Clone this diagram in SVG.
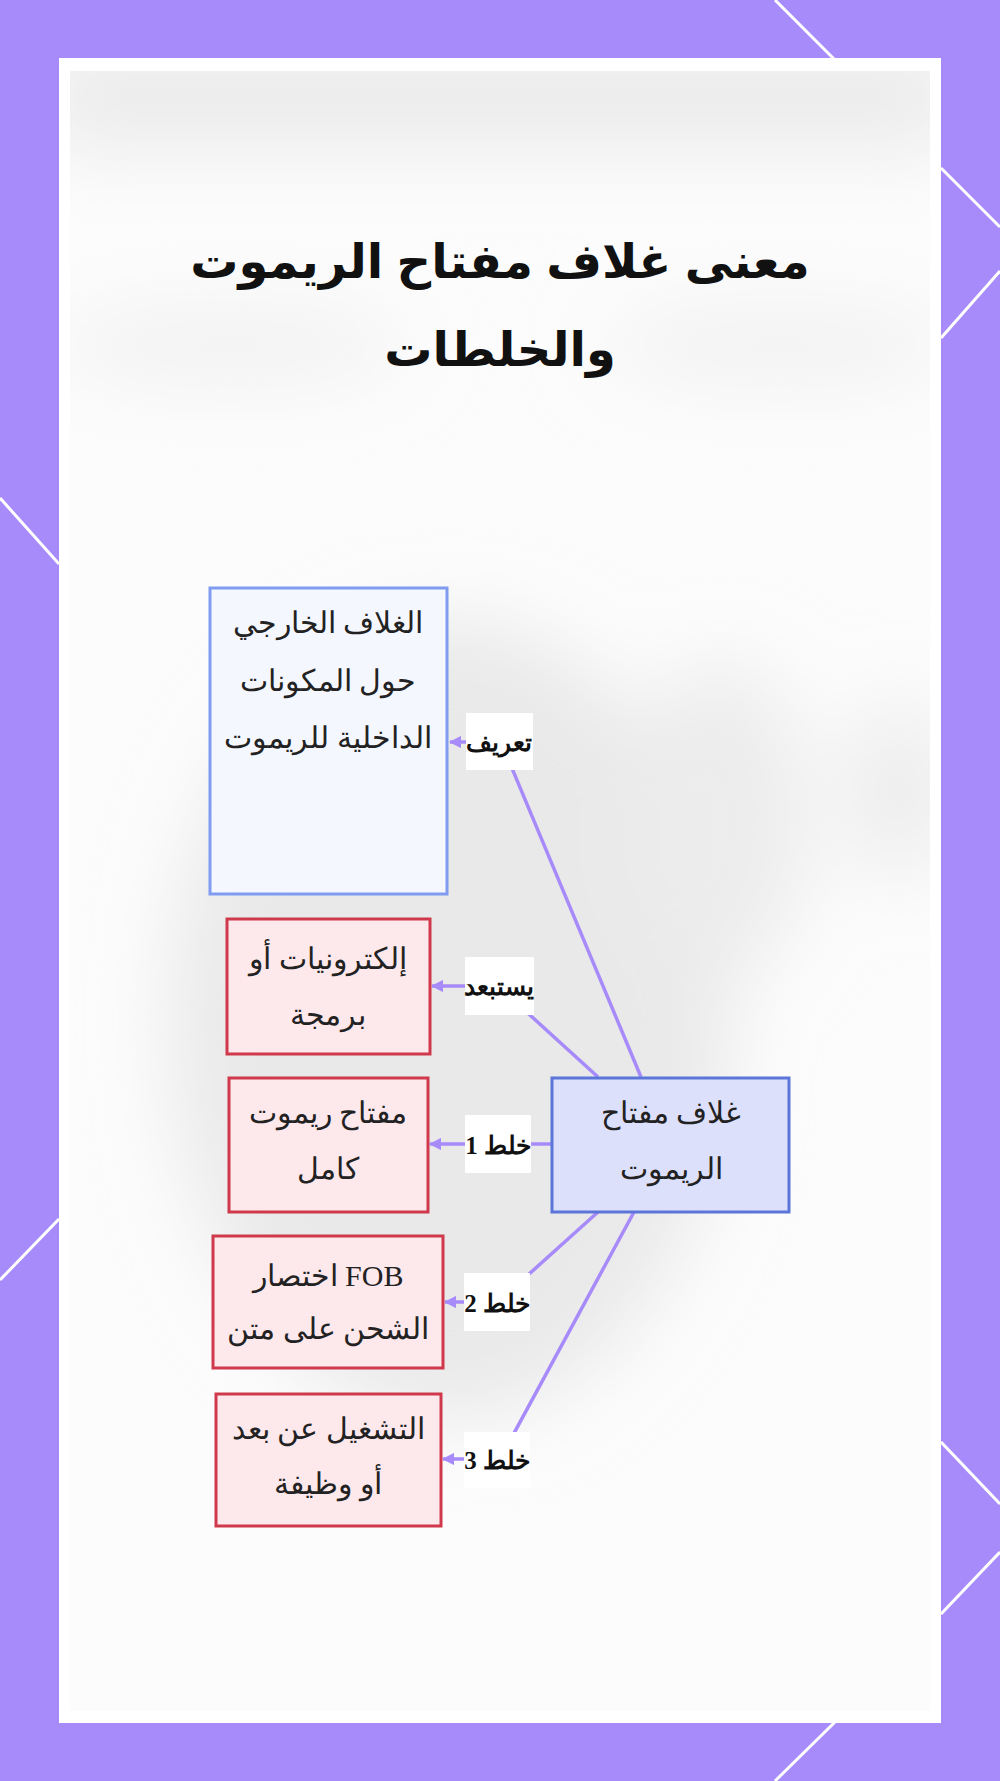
<svg xmlns="http://www.w3.org/2000/svg" width="1000" height="1781" viewBox="0 0 1000 1781">
<style>
.frame{fill:none;stroke:#ffffff;stroke-width:3}
.nodeText{font-family:"Liberation Serif","DejaVu Serif",serif;font-size:30px;fill:#222;text-anchor:middle}
.title{font-family:"Liberation Sans","DejaVu Sans",sans-serif;font-size:48px;font-weight:bold;fill:#111;text-anchor:middle}
.lbl{font-family:"Liberation Serif","DejaVu Serif",serif;font-size:25px;font-weight:bold;fill:#111;text-anchor:middle}
.lblbg{fill:#ffffff}
.edge{fill:none;stroke:#a78bfa;stroke-width:3.5}
.blue{fill:#f5f7fe;stroke:#7f9cf0;stroke-width:3}
.main{fill:#dde0fb;stroke:#5b75d8;stroke-width:3}
.red{fill:#fde8ec;stroke:#d0384c;stroke-width:3}
</style>
<defs>
<marker id="arr" viewBox="0 0 10 10" refX="9" refY="5" markerWidth="3.5" markerHeight="3.5" orient="auto">
<path d="M0,0 L10,5 L0,10 z" fill="#a78bfa"/>
</marker>
<filter id="blur" x="-30%" y="-30%" width="160%" height="160%"><feGaussianBlur stdDeviation="40"/></filter>
<clipPath id="inner"><rect x="70" y="71" width="860" height="1640"/></clipPath>
</defs>
<rect x="0" y="0" width="1000" height="1781" fill="#a78bfa"/>
<g id="frame-lines">
<line class="frame" x1="775" y1="0" x2="835" y2="60"/>
<line class="frame" x1="941" y1="168" x2="1000" y2="227"/>
<line class="frame" x1="1000" y1="271" x2="941" y2="338"/>
<line class="frame" x1="0" y1="498" x2="59" y2="564"/>
<line class="frame" x1="59" y1="1219" x2="0" y2="1280"/>
<line class="frame" x1="941" y1="1442" x2="1000" y2="1504"/>
<line class="frame" x1="1000" y1="1552" x2="941" y2="1614"/>
<line class="frame" x1="835" y1="1722" x2="775" y2="1781"/>
</g>
<rect x="59" y="58" width="882" height="1665" fill="#ffffff"/>
<g id="backdrop" clip-path="url(#inner)">
<rect x="70" y="71" width="860" height="1640" fill="#fcfcfc"/>
<g filter="url(#blur)">
<rect x="40" y="40" width="920" height="110" fill="#ebebeb"/>
<ellipse cx="230" cy="345" rx="180" ry="35" fill="#f0f0f0"/>
<ellipse cx="780" cy="345" rx="180" ry="35" fill="#f0f0f0"/>
<ellipse cx="450" cy="1020" rx="280" ry="400" fill="#e9e9e9"/>
<ellipse cx="900" cy="790" rx="50" ry="90" fill="#ebebeb"/>
<ellipse cx="720" cy="820" rx="90" ry="160" fill="#ececec"/>
</g>
</g>
<g id="title">
<text class="title" x="500" y="278">معنى غلاف مفتاح الريموت</text>
<text class="title" x="500" y="366">والخلطات</text>
</g>
<g id="connectors">
<polyline id="e1" class="edge" points="641,1077 501,742 450,742" marker-end="url(#arr)"/>
<polyline id="e2" class="edge" points="598,1077 498,986 432,986" marker-end="url(#arr)"/>
<polyline id="e3" class="edge" points="552,1144 430,1144" marker-end="url(#arr)"/>
<polyline id="e4" class="edge" points="598,1212 498,1302 445,1302" marker-end="url(#arr)"/>
<polyline id="e5" class="edge" points="634,1212 500,1459 443,1459" marker-end="url(#arr)"/>
<g id="edge-labels">
<rect class="lblbg" x="466" y="713" width="67" height="57"/>
<text class="lbl" x="499" y="751">تعريف</text>
<rect class="lblbg" x="465" y="957" width="69" height="58"/>
<text class="lbl" x="499" y="995">يستبعد</text>
<rect class="lblbg" x="465" y="1115" width="66" height="58"/>
<text class="lbl" x="498" y="1154">خلط 1</text>
<rect class="lblbg" x="464" y="1273" width="66" height="58"/>
<text class="lbl" x="497" y="1312">خلط 2</text>
<rect class="lblbg" x="464" y="1432" width="66" height="56"/>
<text class="lbl" x="497" y="1469">خلط 3</text>
</g>
</g>
<g id="node-outer">
<rect class="blue" x="210" y="588" width="237" height="306"/>
<text class="nodeText" x="328" y="633">الغلاف الخارجي</text>
<text class="nodeText" x="328" y="691">حول المكونات </text>
<text class="nodeText" x="328" y="748">الداخلية للريموت</text>
</g>
<g id="node-main">
<rect class="main" x="552" y="1078" width="237" height="134"/>
<text class="nodeText" x="671" y="1123">غلاف مفتاح</text>
<text class="nodeText" x="671" y="1179">الريموت</text>
</g>
<g id="node-electronics">
<rect class="red" x="227" y="919" width="203" height="135"/>
<text class="nodeText" x="328" y="969">إلكترونيات أو</text>
<text class="nodeText" x="328" y="1025">برمجة</text>
</g>
<g id="node-key">
<rect class="red" x="229" y="1078" width="199" height="134"/>
<text class="nodeText" x="328" y="1123">مفتاح ريموت</text>
<text class="nodeText" x="328" y="1179">كامل</text>
</g>
<g id="node-fob">
<rect class="red" x="213" y="1236" width="230" height="132"/>
<text class="nodeText" x="328" y="1286">اختصار FOB</text>
<text class="nodeText" x="328" y="1339">الشحن على متن</text>
</g>
<g id="node-remote">
<rect class="red" x="216" y="1394" width="225" height="132"/>
<text class="nodeText" x="328" y="1439">التشغيل عن بعد</text>
<text class="nodeText" x="328" y="1494">أو وظيفة</text>
</g>
</svg>
